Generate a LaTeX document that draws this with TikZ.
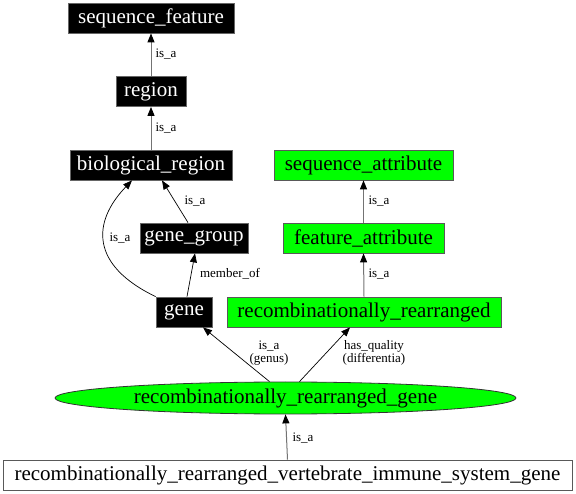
\documentclass[tikz,border=0pt]{standalone}
\usepackage{fontspec}
\setmainfont{Liberation Serif}
\usetikzlibrary{shapes.geometric,arrows.meta}
\definecolor{gvgreen}{HTML}{00FF00}
\tikzset{
  nodefont/.style={font=\fontsize{21}{24}\selectfont},
  lblfont/.style={font=\fontsize{13}{12.5}\selectfont},
  blackbox/.style={rectangle, fill=black, draw=black!60, line width=0.8pt, text=white, inner sep=0pt, minimum height=30pt, nodefont},
  greenbox/.style={rectangle, fill=gvgreen, draw=black!65, line width=0.8pt, text=black, inner sep=0pt, minimum height=30pt, nodefont},
  whitebox/.style={rectangle, fill=white, draw=black!65, line width=0.8pt, text=black, inner sep=0pt, minimum height=30pt, nodefont},
  greenell/.style={ellipse, fill=gvgreen, draw=black!80, line width=0.8pt, inner sep=0pt, nodefont},
  vedge/.style={draw=black!55, line width=1pt, -{Triangle[length=9pt,width=7pt,color=black,fill=black]}},
  dedge/.style={draw=black, line width=0.7pt, -{Triangle[length=9pt,width=7pt]}},
  elabel/.style={lblfont, inner sep=0pt, align=center, text=black},
}
\begin{document}
\begin{tikzpicture}[x=1pt,y=-1pt]
\useasboundingbox (0,0) rectangle (576,494);
% nodes
\node[blackbox, minimum width=166pt] (sf) at (151,18) {sequence\_feature};
\node[blackbox, minimum width=70pt] (reg) at (151,91.5) {region};
\node[blackbox, minimum width=162pt] (bio) at (151,165) {biological\_region};
\node[blackbox, minimum width=108pt] (gg) at (194,238) {gene\_group};
\node[blackbox, minimum width=56pt] (gene) at (184,312) {gene};
\node[greenbox, minimum width=179pt] (sa) at (363.5,165) {sequence\_attribute};
\node[greenbox, minimum width=161pt] (fa) at (363.5,238) {feature\_attribute};
\node[greenbox, minimum width=274pt] (rr) at (364,312) {recombinationally\_rearranged};
\node[greenell, minimum width=461pt, minimum height=32pt] (rrg) at (285.5,398) {recombinationally\_rearranged\_gene};
\node[whitebox, minimum width=569pt] (rv) at (287.5,475) {recombinationally\_rearranged\_vertebrate\_immune\_system\_gene};
% edges
\draw[vedge] (reg.north) -- (sf.south);
\node[elabel] (l1) at (166,54) {is\_a};
\draw[vedge] (bio.north) -- (reg.south);
\node[elabel] (l2) at (166,128) {is\_a};
\draw[dedge] ([xshift=-6pt]gg.north) -- ([xshift=11pt]bio.south);
\node[elabel] (l3) at (195,201) {is\_a};
\draw[dedge] (gene.north west) .. controls (90,265) and (92,222) .. ([xshift=-19pt]bio.south);
\node[elabel] (l4) at (120,238) {is\_a};
\draw[dedge] ([xshift=3pt]gene.north) -- ([xshift=1pt]gg.south);
\node[elabel] (l5) at (230,274) {member\_of};
\draw[vedge] (fa.north) -- (sa.south);
\node[elabel] (l6) at (379,201) {is\_a};
\draw[vedge] (rr.north) -- (fa.south);
\node[elabel] (l7) at (379,274) {is\_a};
\draw[dedge] ([xshift=-16pt]rrg.north) -- ([xshift=19pt]gene.south);
\node[elabel] (l8) at (269,353) {is\_a\\(genus)};
\draw[dedge] ([xshift=14pt]rrg.north) -- ([xshift=-14pt]rr.south);
\node[elabel] (l9) at (374,353) {has\_quality\\(differentia)};
\draw[vedge] (rv.north) -- (rrg.south);
\node[elabel] (l10) at (303,438) {is\_a};
\end{tikzpicture}
\end{document}
